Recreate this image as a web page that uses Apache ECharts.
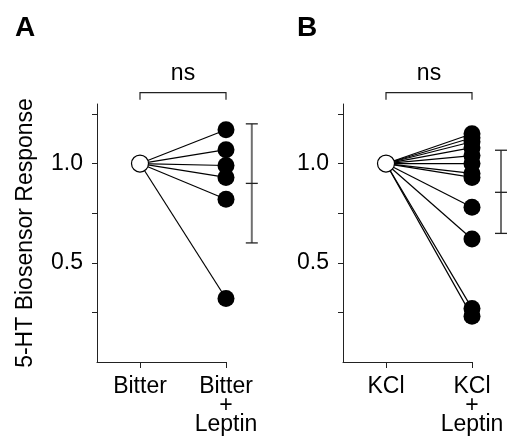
<!DOCTYPE html>
<html>
<head>
<meta charset="utf-8">
<script src="https://cdn.jsdelivr.net/npm/echarts@6/dist/echarts.min.js"></script>
<style>html,body{margin:0;padding:0;background:#fff}#c{width:507px;height:436px}</style>
</head>
<body>
<div id="c"></div>
<script>
// ---- data ----
const catsA = ['Bitter', 'Bitter\n+\nLeptin'];
const catsB = ['KCl', 'KCl\n+\nLeptin'];
const baseA = 1.0;
const leptinA = [1.17, 1.07, 0.99, 0.93, 0.82, 0.32];
const baseB = 1.0;
const leptinB = [1.15, 1.13, 1.11, 1.08, 1.04, 1.00, 0.95, 0.93, 0.78, 0.62, 0.27, 0.23];
const errA = {mean: 0.90, low: 0.60, high: 1.20};
const errB = {mean: 0.855, low: 0.648, high: 1.067};
const yTickValues = [0.25, 0.5, 0.75, 1.0, 1.25];
const yLabelValues = [0.5, 1.0];
const yTitle = '5-HT Biosensor Response';
const sigLabel = 'ns';

const FONT = 'Liberation Sans, Arial, Helvetica, sans-serif';
const chart = echarts.init(document.getElementById('c'), null, {renderer: 'canvas'});

function yAxisCfg(showName) {
  return {
    type: 'value', min: 0, max: 1.3,
    name: showName ? yTitle : '', nameLocation: 'middle', nameGap: 60,
    nameTextStyle: {fontFamily: FONT, fontSize: 23, color: '#000'},
    axisLine: {show: true, onZero: false, lineStyle: {color: '#222', width: 1}},
    axisTick: {show: true, length: 5, customValues: yTickValues, lineStyle: {color: '#222'}},
    axisLabel: {customValues: yLabelValues, margin: 14, fontFamily: FONT, fontSize: 23, color: '#000',
      formatter: v => v.toFixed(1)},
    splitLine: {show: false}
  };
}
function xAxisCfg(gi, cats) {
  return {
    type: 'value', gridIndex: gi, min: -0.5, max: 1,
    axisLine: {show: true, onZero: false, lineStyle: {color: '#222', width: 1}},
    axisTick: {show: true, length: 6, customValues: [0, 1], lineStyle: {color: '#222'}},
    axisLabel: {customValues: [0, 1], margin: 15, fontFamily: FONT, fontSize: 23, color: '#000',
      lineHeight: 19, formatter: v => cats[Math.round(v)]},
    splitLine: {show: false}
  };
}

function panelSeries(gi, base, vals, err, errX) {
  const s = [];
  vals.forEach(v => {
    s.push({type: 'line', xAxisIndex: gi, yAxisIndex: gi, data: [[0, base], [1, v]],
      symbol: 'none', lineStyle: {color: '#000', width: 1.2}, z: 2, silent: true, animation: false});
  });
  s.push({type: 'scatter', xAxisIndex: gi, yAxisIndex: gi, data: vals.map(v => [1, v]),
    symbolSize: 17, itemStyle: {color: '#000', opacity: 1}, z: 3, animation: false, clip: false});
  s.push({type: 'scatter', xAxisIndex: gi, yAxisIndex: gi, data: [[0, base]],
    symbolSize: 17, itemStyle: {color: '#fff', opacity: 1, borderColor: '#000', borderWidth: 1.2}, z: 4, animation: false, clip: false});
  // error bar
  s.push({type: 'custom', xAxisIndex: gi, yAxisIndex: gi, clip: false, animation: false, z: 5,
    data: [[errX, err.mean, err.low, err.high]],
    renderItem: (params, api) => {
      const x = api.value(0);
      const pm = api.coord([x, api.value(1)]);
      const pl = api.coord([x, api.value(2)]);
      const ph = api.coord([x, api.value(3)]);
      const w = 6;
      return {type: 'group', children: [
        {type: 'line', shape: {x1: pl[0], y1: pl[1], x2: ph[0], y2: ph[1]}, style: {stroke: '#707070', lineWidth: 2}},
        {type: 'line', shape: {x1: ph[0] - w, y1: ph[1], x2: ph[0] + w, y2: ph[1]}, style: {stroke: '#222', lineWidth: 1.3}},
        {type: 'line', shape: {x1: pm[0] - w, y1: pm[1], x2: pm[0] + w, y2: pm[1]}, style: {stroke: '#222', lineWidth: 1.3}},
        {type: 'line', shape: {x1: pl[0] - w, y1: pl[1], x2: pl[0] + w, y2: pl[1]}, style: {stroke: '#222', lineWidth: 1.3}}
      ]};
    }});
  // significance bracket
  s.push({type: 'custom', xAxisIndex: gi, yAxisIndex: gi, clip: false, animation: false, z: 5,
    data: [[0, 1, 1.357, 1.322, 1.455]],
    renderItem: (params, api) => {
      const a = api.coord([api.value(0), api.value(2)]);
      const b = api.coord([api.value(1), api.value(2)]);
      const a2 = api.coord([api.value(0), api.value(3)]);
      const b2 = api.coord([api.value(1), api.value(3)]);
      const t = api.coord([(api.value(0) + api.value(1)) / 2, api.value(4)]);
      return {type: 'group', children: [
        {type: 'polyline', shape: {points: [a2, a, b, b2]}, style: {stroke: '#222', lineWidth: 1.2, fill: null}},
        {type: 'text', x: t[0], y: t[1], style: {text: sigLabel, fontFamily: FONT, fontSize: 23, fill: '#000', align: 'center', verticalAlign: 'middle'}}
      ]};
    }});
  return s;
}

chart.setOption({
  backgroundColor: '#fff',
  animation: false,
  title: [
    {text: 'A', left: 10, top: 9, textStyle: {fontFamily: FONT, fontSize: 28, fontWeight: 'bold', color: '#000'}},
    {text: 'B', left: 292, top: 9, textStyle: {fontFamily: FONT, fontSize: 28, fontWeight: 'bold', color: '#000'}}
  ],
  grid: [
    {left: 97, top: 104, width: 129, height: 258},
    {left: 343, top: 104, width: 129, height: 258}
  ],
  xAxis: [xAxisCfg(0, catsA), xAxisCfg(1, catsB)],
  yAxis: [Object.assign(yAxisCfg(true), {gridIndex: 0}), Object.assign(yAxisCfg(false), {gridIndex: 1})],
  series: [].concat(panelSeries(0, baseA, leptinA, errA, 1.30), panelSeries(1, baseB, leptinB, errB, 1.337))
});
</script>
</body>
</html>
